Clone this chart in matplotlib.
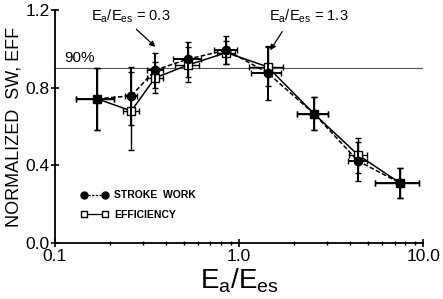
import matplotlib
matplotlib.use("Agg")
import matplotlib.pyplot as plt
from matplotlib.lines import Line2D
from matplotlib.ticker import FixedLocator, NullFormatter

plt.rcParams['font.family'] = ['Liberation Sans', 'DejaVu Sans']
plt.rcParams['mathtext.default'] = 'regular'

# afterload ratio Ea/Ees
ratio = [0.17, 0.26, 0.35, 0.53, 0.855, 1.43, 2.56, 4.44, 7.5]
ratio_err = [0.04, 0.02, 0.035, 0.09, 0.12, 0.27, 0.5, 0.55, 2.0]

stroke_work = [0.742, 0.758, 0.89, 0.947, 0.993, 0.876, 0.665, 0.422, 0.309]
stroke_work_err = [0.16, 0.15, 0.09, 0.09, 0.07, 0.14, 0.085, 0.10, 0.075]

efficiency = [0.742, 0.68, 0.85, 0.917, 0.98, 0.907, 0.665, 0.453, 0.309]
efficiency_err = [0.16, 0.2, 0.08, 0.09, 0.06, 0.1, 0.085, 0.09, 0.075]
efficiency_xerr = [0.04, 0.025, 0.035, 0.08, 0.1, 0.3, 0.5, 0.5, 2.0]

yticks = [0.0, 0.4, 0.8, 1.2]
xticks = [0.1, 1.0, 10.0]
xtick_labels = ['0.1', '1.0', '10.0']

fig = plt.figure(figsize=(4.43, 2.99), dpi=100)
ax = fig.add_axes([0.124, 0.187, 0.831, 0.78])

ax.axhline(0.9, color='#555555', lw=0.8, zorder=1)

ax.errorbar(ratio, efficiency, yerr=efficiency_err, xerr=efficiency_xerr,
            fmt='s-', color='black', mfc='white', mec='black', ms=6,
            lw=1.1, elinewidth=1.0, capsize=2, zorder=3)
ax.errorbar(ratio, stroke_work, yerr=stroke_work_err, xerr=ratio_err,
            fmt='o--', color='black', ms=6, dashes=(3, 1.5),
            lw=1.1, elinewidth=1.4, capsize=2, zorder=4)

ax.set_xscale('log')
ax.set_xlim(0.1, 10.0)
ax.set_ylim(0.0, 1.2)
ax.xaxis.set_major_locator(FixedLocator(xticks))
ax.set_xticklabels(xtick_labels)
ax.xaxis.set_minor_locator(FixedLocator([0.2, 0.3, 0.4, 0.5, 0.6, 0.7, 0.8, 0.9,
                                         2, 3, 4, 5, 6, 7, 8, 9]))
ax.xaxis.set_minor_formatter(NullFormatter())
ax.set_yticks(yticks)
ax.set_yticklabels(['0.0', '0.4', '0.8', '1.2'])

ax.spines['top'].set_visible(False)
ax.spines['right'].set_visible(False)
ax.spines['left'].set_linewidth(1.3)
ax.spines['bottom'].set_linewidth(1.3)
ax.tick_params(axis='both', which='major', direction='inout', length=6,
               width=1.2, labelsize=12.5, pad=1)
ax.tick_params(axis='x', which='minor', direction='inout', length=3, width=1.0)

ax.set_xlabel(r'$E_a/E_{es}$', fontsize=20, labelpad=2)
ax.set_ylabel('NORMALIZED  SW, EFF', fontsize=13, labelpad=2)

ax.text(0.112, 0.953, '90%', fontsize=11, va='center', ha='left')

ax.annotate('', xy=(0.36, 1.0), xytext=(0.27, 1.11),
            arrowprops=dict(arrowstyle='-|>', color='black', lw=0.9,
                            mutation_scale=8))
ax.text(0.158, 1.165, r'$E_a/E_{es}$ = 0.3', fontsize=10.5, va='center')
ax.annotate('', xy=(1.45, 0.98), xytext=(1.75, 1.1),
            arrowprops=dict(arrowstyle='-|>', color='black', lw=0.9,
                            mutation_scale=8))
ax.text(1.45, 1.165, r'$E_a/E_{es}$ = 1.3', fontsize=10.5, va='center')

handles = [Line2D([], [], color='black', marker='o', ms=5, lw=0.9, ls='--',
                  dashes=(2, 1)),
           Line2D([], [], color='black', marker='s', ms=5, mfc='white', lw=0.9)]
leg = ax.legend(handles, ['STROKE  WORK', 'EFFICIENCY'], loc='lower left',
                bbox_to_anchor=(0.045, 0.06), frameon=False, numpoints=2,
                handlelength=2.6, prop={'weight': 'bold', 'size': 7.5},
                labelspacing=0.9, handletextpad=0.6)

fig.savefig('out.png', dpi=100)
plt.close()
